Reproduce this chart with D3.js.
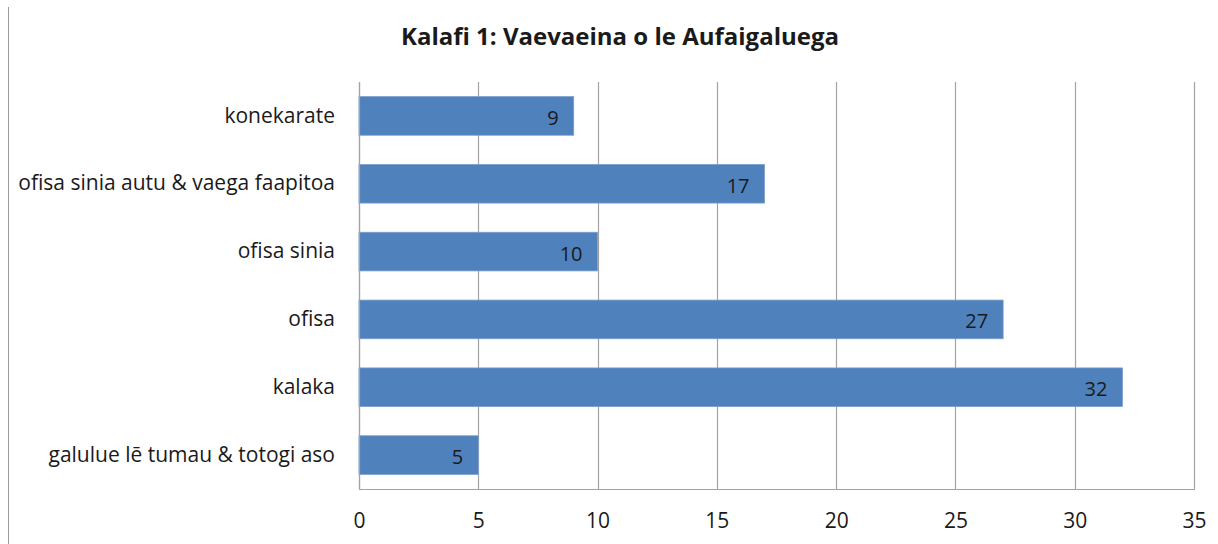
<!DOCTYPE html>
<html>
<head>
<meta charset="utf-8">
<script src="https://cdn.jsdelivr.net/npm/d3@7"></script>
<style>
  body { margin: 0; background: #fff; }
  text { font-family: "Open Sans", "Noto Sans", sans-serif; fill: #1a1a1a; }
</style>
</head>
<body>
<div id="chart"></div>
<script>
const categories = [
  "konekarate",
  "ofisa sinia autu & vaega faapitoa",
  "ofisa sinia",
  "ofisa",
  "kalaka",
  "galulue lē tumau & totogi aso"
]
const values = [9, 17, 10, 27, 32, 5]
const tickValues = [0, 5, 10, 15, 20, 25, 30, 35]
const title = "Kalafi 1: Vaevaeina o le Aufaigaluega"

const width = 1218, height = 544
const margin = {top: 82, right: 24, bottom: 55, left: 359}

const svg = d3.select("#chart").append("svg")
  .attr("width", width)
  .attr("height", height)

// left frame edge of the chart object
svg.append("line")
  .attr("x1", 8.5).attr("x2", 8.5)
  .attr("y1", 7).attr("y2", height)
  .attr("stroke", "#9a9a9a")
  .attr("stroke-width", 1)

const x = d3.scaleLinear()
  .domain([0, 35])
  .range([margin.left, 1194])

const y = d3.scaleBand()
  .domain(categories)
  .range([margin.top, height - margin.bottom])
  .paddingInner(0.43)
  .paddingOuter(0.215)

const g = svg.append("g")

// vertical gridlines
g.append("g")
  .selectAll("line")
  .data(tickValues)
  .enter().append("line")
    .attr("x1", d => Math.round(x(d)) + 0.5)
    .attr("x2", d => Math.round(x(d)) + 0.5)
    .attr("y1", margin.top)
    .attr("y2", height - margin.bottom)
    .attr("stroke", "#a3a3a3")
    .attr("stroke-width", 1.2)

// bars
g.append("g")
  .selectAll("rect")
  .data(values)
  .enter().append("rect")
    .attr("x", x(0))
    .attr("y", (d, i) => y(categories[i]))
    .attr("width", d => x(d) - x(0))
    .attr("height", y.bandwidth())
    .attr("fill", "#4f81bd")
    .attr("stroke", "#7c9fcc")
    .attr("stroke-width", 0.8)

// value labels
g.append("g")
  .selectAll("text")
  .data(values)
  .enter().append("text")
    .attr("x", d => x(d) - 15)
    .attr("y", (d, i) => y(categories[i]) + y.bandwidth() / 2)
    .attr("dy", "0.45em")
    .attr("text-anchor", "end")
    .style("font-size", "20px")
    .text(d => d)

// axes lines
g.append("line")
  .attr("x1", x(0)).attr("x2", x(35) + 1)
  .attr("y1", height - margin.bottom + 0.5).attr("y2", height - margin.bottom + 0.5)
  .attr("stroke", "#a3a3a3").attr("stroke-width", 1.2)
g.append("line")
  .attr("x1", Math.round(x(0)) + 0.5).attr("x2", Math.round(x(0)) + 0.5)
  .attr("y1", margin.top).attr("y2", height - margin.bottom)
  .attr("stroke", "#a3a3a3").attr("stroke-width", 1.2)

// x tick labels
const xAxis = d3.axisBottom(x)
  .tickValues(tickValues)
  .tickSize(0)
  .tickPadding(24)
svg.append("g")
  .attr("transform", `translate(0,${height - margin.bottom})`)
  .call(xAxis)
  .call(a => a.select(".domain").remove())
  .call(a => a.selectAll("text")
    .style("font-size", "21px")
    .style("font-family", "'Open Sans', sans-serif")
    .attr("fill", "#1a1a1a"))

// category labels
const yAxis = d3.axisLeft(y).tickSize(0).tickPadding(24)
svg.append("g")
  .attr("transform", `translate(${margin.left},0)`)
  .call(yAxis)
  .call(a => a.select(".domain").remove())
  .call(a => a.selectAll("text")
    .style("font-size", "21px")
    .style("font-family", "'Open Sans', sans-serif")
    .attr("fill", "#1a1a1a"))

// title
svg.append("text")
  .attr("x", 620)
  .attr("y", 45)
  .attr("text-anchor", "middle")
  .style("font-size", "24px")
  .style("font-weight", "bold")
  .text(title)
</script>
</body>
</html>
